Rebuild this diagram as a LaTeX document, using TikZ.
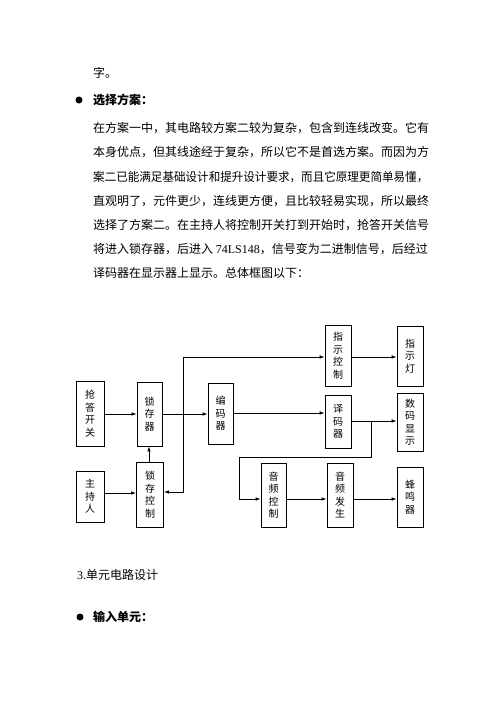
\documentclass[tikz,border=0pt]{standalone}
\usepackage{fontspec}
\usepackage{graphicx}
\setmainfont{Liberation Serif}
\newfontfamily\cjk{Noto Sans CJK SC}
\usetikzlibrary{arrows.meta}
\begin{document}
\begin{tikzpicture}[x=1pt,y=-1pt,
  blk/.style={draw, line width=0.9pt, inner sep=0pt, align=center,
    font=\cjk\fontsize{10}{12.5}\selectfont},
  arr/.style={-{Latex[length=5pt,width=3.6pt]}, line width=0.8pt},
  body/.style={anchor=west, inner sep=0pt, font=\cjk\fontsize{12}{14}\selectfont},
  head/.style={anchor=west, inner sep=0pt, font=\cjk\bfseries\fontsize{12}{14}\selectfont},
  bullet/.style={circle, fill=black, inner sep=0pt, minimum size=7pt}]
\useasboundingbox[fill=white] (0,0) rectangle (500,707);

% ---- text above ----
\node[body] (t0) at (93,73) {字。};
\node[bullet] (u1) at (79,100) {};
\node[head] (h1) at (93,100) {选择方案：};
\node[body] (t1) at (93,128) {在方案一中，其电路较方案二较为复杂，包含到连线改变。它有};
\node[body] (t2) at (93,152) {本身优点，但其线途经于复杂，所以它不是首选方案。而因为方};
\node[body] (t3) at (93,177) {\scalebox{0.963}[1]{案二已能满足基础设计和提升设计要求，而且它原理更简单易懂，}};
\node[body] (t4) at (93,201) {直观明了，元件更少，连线更方便，且比较轻易实现，所以最终};
\node[body] (t5) at (93,225) {选择了方案二。在主持人将控制开关打到开始时，抢答开关信号};
\node[body] (t6) at (93,249) {将进入锁存器，后进入 {\rmfamily 74LS148}，信号变为二进制信号，后经过};
\node[body] (t7) at (93,273) {译码器在显示器上显示。总体框图以下：};

% ---- block diagram ----
\node[blk, minimum width=28pt, minimum height=65pt] (qd) at (90,413.5) {抢\\答\\开\\关};
\node[blk, minimum width=25pt, minimum height=64pt] (sc) at (149.5,414) {锁\\存\\器};
\node[blk, minimum width=25pt, minimum height=61pt] (bm) at (220.5,413.5) {编\\码\\器};
\node[blk, minimum width=26pt, minimum height=61pt] (zk) at (338,355.5) {指\\示\\控\\制};
\node[blk, minimum width=26pt, minimum height=60pt] (zd) at (410,356) {指\\示\\灯};
\node[blk, minimum width=26pt, minimum height=53pt] (ym) at (338,421.5) {译\\码\\器};
\node[blk, minimum width=26pt, minimum height=58pt] (sm) at (410,422) {数\\码\\显\\示};
\node[blk, minimum width=28pt, minimum height=51pt] (zc) at (90,496.5) {主\\持\\人};
\node[blk, minimum width=27pt, minimum height=65pt] (sk) at (150,494.5) {锁\\存\\控\\制};
\node[blk, minimum width=25pt, minimum height=64pt] (yk) at (273.5,495) {音\\频\\控\\制};
\node[blk, minimum width=26pt, minimum height=64pt] (yf) at (340,495) {音\\频\\发\\生};
\node[blk, minimum width=26pt, minimum height=60pt] (fm) at (410,497) {蜂\\鸣\\器};

\coordinate (j1) at (183,414);
\coordinate (j2) at (371,421);

\draw[arr] (qd.east |- 0,414) -- (sc.west |- 0,414);
\draw[arr] (sc.east |- 0,414) -- (bm.west |- 0,414);
\draw[arr] (j1) |- (zk.west |- 0,357);
\draw[arr] (j1) |- (sk.east |- 0,492);
\draw[arr] (bm.east |- 0,413) -- (ym.west |- 0,413);
\draw[arr] (zk.east |- 0,357) -- (zd.west |- 0,357);
\draw[arr] (ym.east |- 0,421) -- (sm.west |- 0,421);
\draw[arr] (j2) -- (371,457) -- (239,457) |- (yk.west |- 0,499);
\draw[arr] (sk.north -| 149,0) -- (sc.south -| 149,0);
\draw[arr] (zc.east |- 0,493) -- (sk.west |- 0,493);
\draw[arr] (yk.east |- 0,499) -- (yf.west |- 0,499);
\draw[arr] (yf.east |- 0,499) -- (fm.west |- 0,499);

% ---- text below ----
\node[body] (s3) at (77,575) {{\rmfamily 3.}单元电路设计};
\node[bullet] (u2) at (80,617) {};
\node[head] (h2) at (93,617) {输入单元：};
\end{tikzpicture}
\end{document}
